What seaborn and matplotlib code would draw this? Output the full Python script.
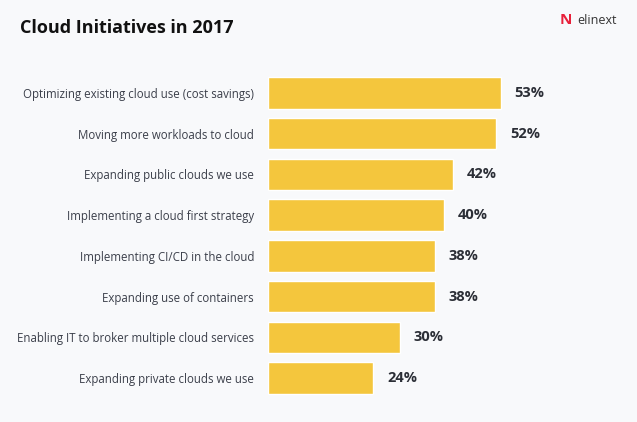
import pandas as pd
import matplotlib.pyplot as plt
import seaborn as sns

sns.set_style("white")
plt.rcParams["font.family"] = ["Open Sans", "DejaVu Sans"]

initiatives = [
    "Optimizing existing cloud use (cost savings)",
    "Moving more workloads to cloud",
    "Expanding public clouds we use",
    "Implementing a cloud first strategy",
    "Implementing CI/CD in the cloud",
    "Expanding use of containers",
    "Enabling IT to broker multiple cloud services",
    "Expanding private clouds we use",
]
shares = [53, 52, 42, 40, 38, 38, 30, 24]

bg = "#f8f9fb"
bar_color = "#f4c63d"

df = pd.DataFrame({"initiative": initiatives, "share": shares})

fig = plt.figure(figsize=(6.37, 4.22), dpi=100, facecolor=bg)
ax = fig.add_axes([268 / 637, 0.056, 369 / 637, 0.772])
ax.set_facecolor(bg)

sns.barplot(data=df, x="share", y="initiative", color=bar_color,
            width=0.77, saturation=1, ax=ax)

ax.bar_label(ax.containers[0], labels=[f"{v}%" for v in shares],
             padding=10, fontsize=10.5, fontweight="bold", color="#2b2e36")

ax.set_xlim(0, 84)
ax.set_ylim(7.5, -0.5)
ax.set_xlabel("")
ax.set_ylabel("")
ax.set_xticks([])
ax.tick_params(axis="y", length=0, pad=10, labelsize=8.3, labelcolor="#3b3f4a")
sns.despine(ax=ax, left=True, bottom=True)

fig.text(20 / 637, 1 - 28 / 422, "Cloud Initiatives in 2017", fontsize=13,
         fontweight="bold", color="#111111", va="center", ha="left")
fig.text(566 / 637, 1 - 20 / 422, "N", fontsize=11, fontweight="bold",
         color="#e8203a", va="center", ha="center")
fig.text(577 / 637, 1 - 20 / 422, "elinext", fontsize=9,
         color="#333333", va="center", ha="left")

fig.savefig("out.png", dpi=100, facecolor=bg)
